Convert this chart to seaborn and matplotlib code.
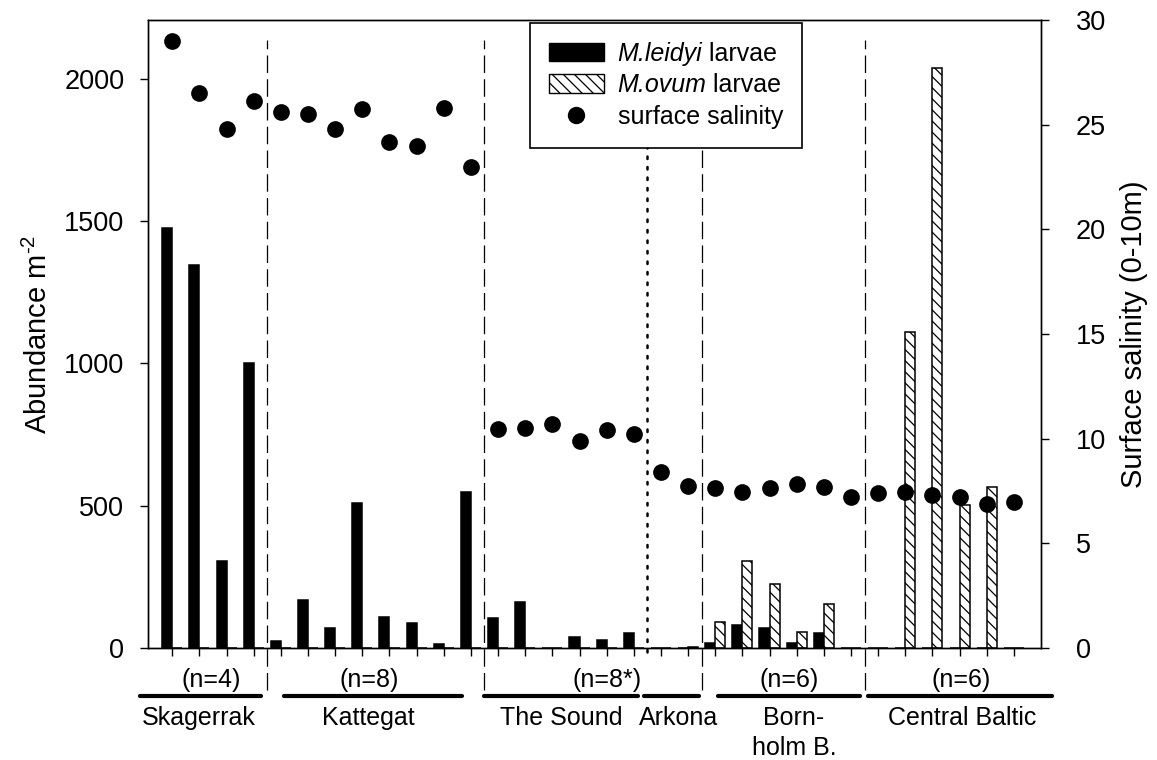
import numpy as np
import pandas as pd
import matplotlib
matplotlib.use("Agg")
import matplotlib.pyplot as plt
import seaborn as sns
from matplotlib.lines import Line2D
from matplotlib.patches import Patch
from matplotlib.offsetbox import TextArea, HPacker

# ---- data -------------------------------------------------------------
regions = ["Skagerrak", "Kattegat", "The Sound", "Arkona", "Bornholm B.", "Central Baltic"]
stations_per_region = [4, 8, 6, 2, 6, 6]
sample_sizes = ["(n=4)", "(n=8)", "(n=8*)", "(n=6)", "(n=6)"]

# larval abundance (ind. m-2) per station
leidyi = [1475, 1345, 305, 1000,
          25, 170, 71, 510, 108, 88, 13, 549,
          105, 160, 0, 38, 27, 52,
          0, 0,
          19, 80, 71, 19, 52, 0,
          0, 0, 0, 0, 0, 0]
ovum = [0, 0, 0, 0,
        0, 0, 0, 0, 0, 0, 0, 0,
        0, 0, 0, 0, 0, 0,
        0, 5,
        92, 305, 226, 56, 156, 0,
        0, 1110, 2039, 503, 567, 0]

# surface salinity (0-10 m) per station
salinity = [29.0, 26.5, 24.8, 26.15,
            25.6, 25.5, 24.8, 25.75, 24.15, 24.0, 25.8, 23.0,
            10.45, 10.5, 10.7, 9.9, 10.42, 10.22,
            8.4, 7.72,
            7.62, 7.44, 7.62, 7.84, 7.71, 7.2,
            7.42, 7.44, 7.32, 7.22, 6.9, 6.99]

# ---- style ------------------------------------------------------------
sns.set_style("ticks")
plt.rcParams.update({
    "font.family": ["Liberation Sans", "DejaVu Sans"],
    "mathtext.fontset": "custom",
    "mathtext.rm": "Liberation Sans",
    "mathtext.it": "Liberation Sans:italic",
    "hatch.linewidth": 0.9,
    "axes.linewidth": 1.0,
    "axes.edgecolor": "black",
    "text.color": "black",
    "axes.labelcolor": "black",
    "xtick.color": "black",
    "ytick.color": "black",
})
HATCH = "\\\\\\"
FS_TICK = 19.5
FS_LABEL = 21
FS_TEXT = 18
FS_LEG = 18

W, H = 1157, 760
fig = plt.figure(figsize=(W / 100, H / 100), dpi=100)
ax = fig.add_axes([148 / W, 1 - 648 / H, (1041 - 148) / W, (648 - 20) / H])

n = len(salinity)
station = np.arange(n)
df = pd.DataFrame({
    "station": np.tile(station, 2),
    "abundance": leidyi + ovum,
    "species": ["M.leidyi"] * n + ["M.ovum"] * n,
})

sns.barplot(data=df, x="station", y="abundance", hue="species",
            hue_order=["M.leidyi", "M.ovum"],
            palette={"M.leidyi": "black", "M.ovum": "white"},
            saturation=1, edgecolor="black", linewidth=1.1,
            width=0.74, gap=0, dodge=True, errorbar=None,
            legend=False, ax=ax)
for bar in ax.containers[1]:
    bar.set_hatch(HATCH)

ax.set_xlim(-0.895, 32.0)
ax.set_ylim(0, 2206)
ax.set_xticks(station)
ax.set_xticklabels([])
ax.set_xlabel("")
ax.set_yticks([0, 500, 1000, 1500, 2000])
ax.tick_params(axis="both", direction="out", length=6, width=1.0,
               labelsize=FS_TICK, pad=11)
ax.set_ylabel("Abundance m$^{\u20102}$", fontsize=FS_LABEL, labelpad=8)

# salinity on the right-hand axis
ax2 = ax.twinx()
sns.scatterplot(x=station, y=salinity, ax=ax2, color="black", s=145,
                linewidth=0, legend=False, zorder=5)
ax2.set_ylim(0, 30)
ax2.set_yticks(range(0, 31, 5))
ax2.tick_params(axis="y", direction="out", length=6, width=1.0,
                labelsize=FS_TICK, pad=19)
ax2.set_ylabel("Surface salinity (0-10m)", fontsize=FS_LABEL, labelpad=10)
for a in (ax, ax2):
    for s in a.spines.values():
        s.set_visible(True)
        s.set_linewidth(1.0)
        s.set_color("black")

# region separators
xt = ax.get_xaxis_transform()
for xb in [3.5, 11.5, 19.5, 25.5]:
    ax.plot([xb, xb], [-0.067, 0.968], transform=xt, clip_on=False,
            color="black", lw=0.9, ls=(0, (14, 5)), zorder=1)
ax.plot([17.5, 17.5], [-0.006, 0.80], transform=xt, clip_on=False,
        color="black", lw=1.8, ls=(0, (1, 3.2)), dash_capstyle="round", zorder=1)

# region brackets and names under the axis
spans = [(-1.19, 3.26), (4.11, 10.67), (11.48, 17.15), (17.37, 19.4),
         (20.1, 25.33), (25.62, 32.4)]
for x0, x1 in spans:
    ax.plot([x0, x1], [-0.0772, -0.0772], transform=xt, clip_on=False,
            color="black", lw=3.0, solid_capstyle="round")

n_pos = [1.43, 7.24, 16.03, 22.71, 29.05]
for xp, lab in zip(n_pos, sample_sizes):
    ax.text(xp, -0.0502, lab, transform=xt, ha="center", va="center",
            fontsize=FS_TEXT)

name_pos = [0.965, 7.23, 14.32, 18.64, 22.9, 29.09]
for xp, name in zip(name_pos, regions):
    if name == "Bornholm B.":
        ax.text(xp, -0.1115, "Born-", transform=xt, ha="center", va="center",
                fontsize=FS_TEXT)
        ax.text(xp, -0.159, "holm B.", transform=xt, ha="center", va="center",
                fontsize=FS_TEXT)
    else:
        ax.text(xp, -0.1115, name, transform=xt, ha="center", va="center",
                fontsize=FS_TEXT)

# legend
handles = [
    Patch(facecolor="black", edgecolor="black", linewidth=1.0),
    Patch(facecolor="white", edgecolor="black", linewidth=1.0, hatch=HATCH),
    Line2D([], [], marker="o", ls="", color="black", markersize=11.5),
]
labels = ["M.leidyi larvae", "M.ovum larvae", "surface salinity"]
leg = ax2.legend(handles, labels, loc="upper left",
                 bbox_to_anchor=(530 / W, 1 - 23 / H), bbox_transform=fig.transFigure,
                 borderaxespad=0, frameon=True, fancybox=False, framealpha=1,
                 edgecolor="black", fontsize=FS_LEG, handlelength=2.2,
                 handleheight=0.75, handletextpad=0.55, labelspacing=0.3,
                 borderpad=0.75)
leg.get_frame().set_linewidth(1.2)
leg.set_zorder(10)

# species names in italics, "larvae" upright
for col in leg._legend_handle_box.get_children():
    for row in col.get_children():
        kids = row.get_children()
        label = kids[1].get_text()
        if label.startswith("M."):
            species, rest = label.split(" ", 1)
            part_it = TextArea(species, textprops=dict(fontsize=FS_LEG, fontstyle="italic"))
            part_up = TextArea(" " + rest, textprops=dict(fontsize=FS_LEG))
            box = HPacker(children=[part_it, part_up], pad=0, sep=0, align="baseline")
            box.set_figure(fig)
            row._children[1] = box

fig.savefig("out.png", dpi=100)
